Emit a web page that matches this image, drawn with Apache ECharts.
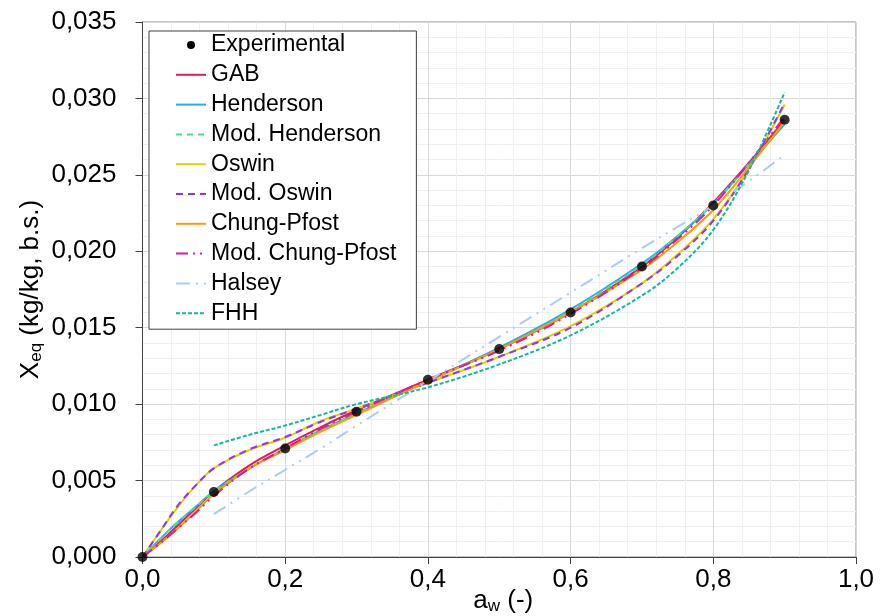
<!DOCTYPE html>
<html>
<head>
<meta charset="utf-8">
<script src="https://cdn.jsdelivr.net/npm/echarts@6/dist/echarts.min.js"></script>
<style>
  html, body { margin: 0; padding: 0; background: #ffffff; }
  #chart { width: 881px; height: 616px; }
</style>
</head>
<body>
<div id="chart"></div>
<script>
// Water activity grid on which the fitted isotherm models are sampled
const awModel = [0, 0.025, 0.05, 0.075, 0.1, 0.15, 0.2, 0.25, 0.3, 0.4, 0.5, 0.6, 0.7, 0.75, 0.8, 0.85, 0.9];

// Experimental equilibrium moisture (kg/kg, dry basis)
const awExp = [0, 0.1, 0.2, 0.3, 0.4, 0.5, 0.6, 0.7, 0.8, 0.9];
const xExp  = [0.0000, 0.00425, 0.0071, 0.0095, 0.0116, 0.0136, 0.0160, 0.0190, 0.0230, 0.0286];

// Model predictions on awModel (null where the model is not defined)
const gab        = [0, 0.0010, 0.0021, 0.0032, 0.0043, 0.0060, 0.0073, 0.0085, 0.0096, 0.0116, 0.0136, 0.0160, 0.0190, 0.0209, 0.0232, 0.0258, 0.0286];
const henderson  = [0, 0.0012, 0.0023, 0.0033, 0.0043, 0.0058, 0.0071, 0.0083, 0.0094, 0.0115, 0.0137, 0.0162, 0.0192, 0.0210, 0.0231, 0.0257, 0.0283];
const modHend    = [0, 0.0012, 0.0023, 0.0033, 0.0043, 0.0058, 0.0071, 0.0083, 0.0094, 0.0115, 0.0136, 0.0161, 0.0191, 0.0210, 0.0231, 0.0257, 0.0284];
const oswin      = [0, 0.0017, 0.0033, 0.0047, 0.0058, 0.0070, 0.0078, 0.0089, 0.0097, 0.0114, 0.0131, 0.0151, 0.0179, 0.0198, 0.0221, 0.0254, 0.0296];
const modOswin   = [0, 0.0017, 0.0034, 0.0047, 0.0058, 0.00705, 0.00785, 0.00885, 0.0097, 0.0114, 0.0131, 0.0150, 0.0179, 0.0197, 0.0220, 0.0254, 0.0297];
const chungPfost = [0, 0.0009, 0.0019, 0.0030, 0.0041, 0.0058, 0.0070, 0.0082, 0.0093, 0.0115, 0.0136, 0.0160, 0.0188, 0.0206, 0.0227, 0.0255, 0.0285];
const modChung   = [0, 0.0009, 0.0019, 0.0029, 0.0040, 0.0058, 0.0071, 0.0084, 0.0095, 0.0116, 0.0135, 0.0159, 0.0189, 0.0208, 0.0230, 0.0258, 0.0288];
const halsey     = [null, null, null, null, 0.0028, 0.0043, 0.0057, 0.0071, 0.0086, 0.0115, 0.0144, 0.0173, 0.0202, 0.0216, 0.0230, 0.0246, 0.0263];
const fhh        = [null, null, null, null, 0.0073, 0.0080, 0.0086, 0.0093, 0.0100, 0.0111, 0.0126, 0.0145, 0.0171, 0.0189, 0.0214, 0.0253, 0.0304];

// Axis tick settings
const xTicks = { min: 0, max: 1, interval: 0.2 };
const yTicks = { min: 0, max: 0.035, interval: 0.005 };

const FONT = 'Liberation Sans, Arial, sans-serif';

function pairs(xs, ys) {
  const out = [];
  xs.forEach((x, i) => { if (ys[i] !== null) out.push([x, ys[i]]); });
  return out;
}

function model(name, values, color, type) {
  return {
    name: name,
    type: 'line',
    data: pairs(awModel, values),
    smooth: 0.35,
    symbol: 'none',
    lineStyle: { color: color, width: 2, type: type || 'solid', cap: 'butt' },
    itemStyle: { color: color },
    emphasis: { disabled: true },
    z: 2
  };
}

const comma = (digits) => (v) => v.toFixed(digits).replace('.', ',');

const chart = echarts.init(document.getElementById('chart'), null, { renderer: 'canvas' });

chart.setOption({
  animation: false,
  backgroundColor: '#ffffff',
  textStyle: { fontFamily: FONT },
  grid: {
    left: 142.5, right: 25, top: 22, bottom: 59,
    outerBoundsMode: 'none',
    containLabel: false,
    show: true, borderColor: '#8c8c8c', borderWidth: 1, backgroundColor: 'transparent'
  },
  xAxis: {
    type: 'value',
    min: xTicks.min, max: xTicks.max, interval: xTicks.interval,
    axisLine: { show: true, onZero: false, lineStyle: { color: '#404040', width: 1 } },
    axisTick: { show: true, length: 7, lineStyle: { color: '#404040' } },
    axisLabel: { margin: 10, fontSize: 26, color: '#000', fontFamily: FONT, formatter: comma(1) },
    splitLine: { show: true, lineStyle: { color: '#d9d9d9', width: 1 } },
    minorTick: { show: false, splitNumber: 5 },
    minorSplitLine: { show: true, lineStyle: { color: '#f0f0f0', width: 1 } },
    name: '{a|a}{s|w}{a| (-)}',
    nameLocation: 'middle',
    nameGap: 30,
    nameMoveOverlap: false,
    nameTextStyle: {
      padding: [0, 0, 0, 8],
      rich: {
        a: { fontSize: 26, color: '#000', fontFamily: FONT },
        s: { fontSize: 17, color: '#000', fontFamily: FONT, verticalAlign: 'bottom', padding: [11, 0, 0, 0] }
      }
    }
  },
  yAxis: {
    type: 'value',
    min: yTicks.min, max: yTicks.max, interval: yTicks.interval,
    axisLine: { show: true, onZero: false, lineStyle: { color: '#404040', width: 1 } },
    axisTick: { show: true, length: 7, lineStyle: { color: '#404040' } },
    axisLabel: { margin: 26, fontSize: 26, color: '#000', fontFamily: FONT, formatter: comma(3) },
    splitLine: { show: true, lineStyle: { color: '#d9d9d9', width: 1 } },
    minorTick: { show: false, splitNumber: 5 },
    minorSplitLine: { show: true, lineStyle: { color: '#f0f0f0', width: 1 } },
    name: '{a|X}{s|eq}{a| (kg/kg, b.s.)}',
    nameLocation: 'middle',
    nameRotate: 90,
    nameGap: 98,
    nameMoveOverlap: false,
    nameTextStyle: {
      rich: {
        a: { fontSize: 26, color: '#000', fontFamily: FONT },
        s: { fontSize: 17, color: '#000', fontFamily: FONT, verticalAlign: 'bottom', padding: [11, 0, 0, 0] }
      }
    }
  },
  legend: {
    orient: 'vertical',
    left: 149, top: 31,
    padding: [2, 20, 4, 26],
    itemWidth: 30, itemHeight: 8, itemGap: 5.8,
    backgroundColor: '#ffffff',
    borderColor: '#404040', borderWidth: 1, borderRadius: 0,
    itemStyle: { opacity: 0 },
    textStyle: { fontSize: 23, color: '#000', fontFamily: FONT, lineHeight: 24 },
    data: [
      { name: 'Experimental', icon: 'circle', itemStyle: { opacity: 1, color: '#000000' } },
      'GAB', 'Henderson', 'Mod. Henderson', 'Oswin', 'Mod. Oswin',
      'Chung-Pfost', 'Mod. Chung-Pfost', 'Halsey', 'FHH'
    ]
  },
  series: [
    model('GAB', gab, '#e61a4f'),
    model('Henderson', henderson, '#1ab2f0'),
    model('Mod. Henderson', modHend, '#44e08e', [6, 5]),
    model('Oswin', oswin, '#e2d100'),
    model('Mod. Oswin', modOswin, '#9b30e8', [7, 5]),
    model('Chung-Pfost', chungPfost, '#ff9a00'),
    model('Mod. Chung-Pfost', modChung, '#e0199f', [12, 5, 2, 5, 2, 5]),
    model('Halsey', halsey, '#a9cdf5', [14, 6, 2, 6, 2, 6]),
    model('FHH', fhh, '#12b89a', [4, 2]),
    {
      name: 'Experimental',
      type: 'scatter',
      data: pairs(awExp, xExp),
      symbol: 'circle',
      symbolSize: 10,
      itemStyle: { color: '#000000' },
      emphasis: { disabled: true },
      z: 5
    }
  ]
});
</script>
</body>
</html>
